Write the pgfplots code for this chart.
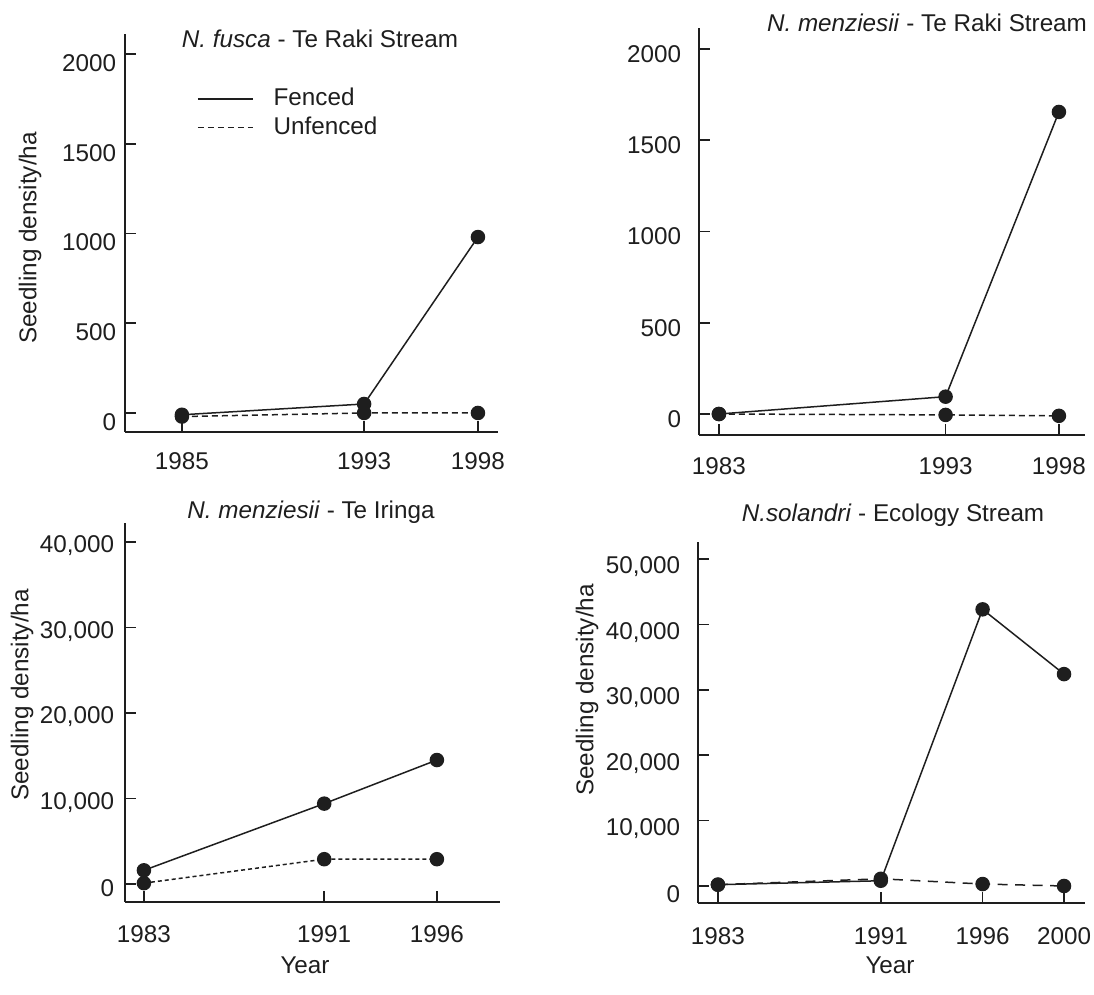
\documentclass[border=0pt]{standalone}
\usepackage{pgfplots}
\pgfplotsset{compat=1.18}
\usepackage{fontspec}
\setmainfont{Liberation Sans}
\definecolor{ink}{HTML}{1E1E1E}
\newcommand{\lab}{\fontsize{9.7}{11.5}\selectfont}

\pgfplotsset{
  panel/.style={
    scale only axis,
    axis lines=left,
    axis line style={-, ink, line width=0.7pt},
    tick style={ink, line width=0.7pt},
    major tick length=4.5pt,
    tick align=inside,
    ticklabel style={font=\lab, text=ink},
    scaled y ticks=false,
    /pgf/number format/assume math mode=true,
    clip=false,
    anchor=south west,
  },
  fenced/.style={ink, line width=0.6pt, mark=*, mark size=2.6pt,
    mark options={solid, fill=ink}},
  unfenced/.style={ink, line width=0.6pt, dash pattern=on 2.4pt off 1.6pt,
    mark=*, mark size=2.6pt, mark options={solid, fill=ink}},
}

\begin{document}
\begin{tikzpicture}
\useasboundingbox (0pt,0pt) rectangle (437.6pt,-398pt);

% N. fusca - Te Raki Stream
\begin{axis}[panel, at={(50pt,-172.8pt)}, width=149.2pt, height=159.2pt,
  xmin=1982.5, xmax=1998.88, ymin=-106, ymax=2111,
  xtick={1985,1993,1998}, xticklabels={1985,1993,1998},
  ytick={0,500,1000,1500,2000}, yticklabels={0,500,1000,1500,2000},
  yticklabel style={yshift=-3.6pt}, xticklabel style={yshift=-4.8pt},
  legend style={draw=none, fill=none, at={(axis description cs:0.172,0.89)},
    anchor=north west, row sep=-1.2pt, font=\lab, text=ink},
  legend cell align=left,
  legend image code/.code={\draw[#1] (0pt,0pt) -- (22pt,0pt); \path (28pt,0pt);},
]
\addplot[fenced] coordinates {(1985,-10) (1993,50) (1998,980)};
\addplot[unfenced] coordinates {(1985,-20) (1993,0) (1998,0)};
\legend{Fenced, Unfenced}
\end{axis}

% N. menziesii - Te Raki Stream
\begin{axis}[panel, at={(279.6pt,-174pt)}, width=154.4pt, height=162.8pt,
  xmin=1982.12, xmax=1999.15, ymin=-115, ymax=2115,
  xtick={1983,1993,1998}, xticklabels={1983,1993,1998},
  ytick={0,500,1000,1500,2000}, yticklabels={0,500,1000,1500,2000},
  yticklabel style={xshift=-3.6pt, yshift=-2pt}, xticklabel style={yshift=-5.6pt},
]
\addplot[fenced] coordinates {(1983,0) (1993,95) (1998,1655)};
\addplot[unfenced] coordinates {(1983,0) (1993,-5) (1998,-10)};
\end{axis}

% N. menziesii - Te Iringa
\begin{axis}[panel, at={(50pt,-360.8pt)}, width=150pt, height=151.6pt,
  xmin=1982.16, xmax=1998.8, ymin=-2105, ymax=42222,
  xtick={1983,1991,1996}, xticklabels={1983,1991,1996},
  ytick={0,10000,20000,30000,40000},
  yticklabels={0,{10,000},{20,000},{30,000},{40,000}},
  yticklabel style={xshift=-0.8pt, yshift=-1.5pt}, xticklabel style={yshift=-6pt},
  unfenced/.append style={dash pattern=on 1.6pt off 1.2pt},
]
\addplot[fenced] coordinates {(1983,1600) (1991,9400) (1996,14500)};
\addplot[unfenced] coordinates {(1983,100) (1991,2900) (1996,2900)};
\end{axis}

% N. solandri - Ecology Stream
\begin{axis}[panel, at={(279.2pt,-361.2pt)}, width=154.8pt, height=144.4pt,
  xmin=1982.02, xmax=2001.03, ymin=-2600, ymax=52600,
  xtick={1983,1991,1996,2000}, xticklabels={1983,1991,1996,2000},
  ytick={0,10000,20000,30000,40000,50000},
  yticklabels={0,{10,000},{20,000},{30,000},{40,000},{50,000}},
  yticklabel style={xshift=-3.6pt, yshift=-3.2pt}, xticklabel style={yshift=-6.4pt},
  unfenced/.append style={dash pattern=on 4pt off 3pt},
]
\addplot[fenced] coordinates {(1983,200) (1991,800) (1996,42300) (2000,32400)};
\addplot[unfenced] coordinates {(1983,200) (1991,1100) (1996,300) (2000,0)};
\end{axis}

% panel titles and axis labels
\begin{scope}[every node/.style={font=\lab, text=ink, inner sep=0pt}]
\node at (128pt,-15.6pt) {\textit{N. fusca} - Te Raki Stream};
\node at (370.8pt,-9.2pt) {\textit{N. menziesii} - Te Raki Stream};
\node at (124.4pt,-204.8pt) {\textit{N. menziesii} - Te Iringa};
\node at (357.2pt,-206pt) {\textit{N.solandri} - Ecology Stream};
\node[rotate=90] at (12pt,-95.2pt) {Seedling density/ha};
\node[rotate=90] at (8.8pt,-278pt) {Seedling density/ha};
\node[rotate=90] at (234.8pt,-276pt) {Seedling density/ha};
\node at (122pt,-386pt) {Year};
\node at (356pt,-386pt) {Year};
\end{scope}
\end{tikzpicture}
\end{document}
